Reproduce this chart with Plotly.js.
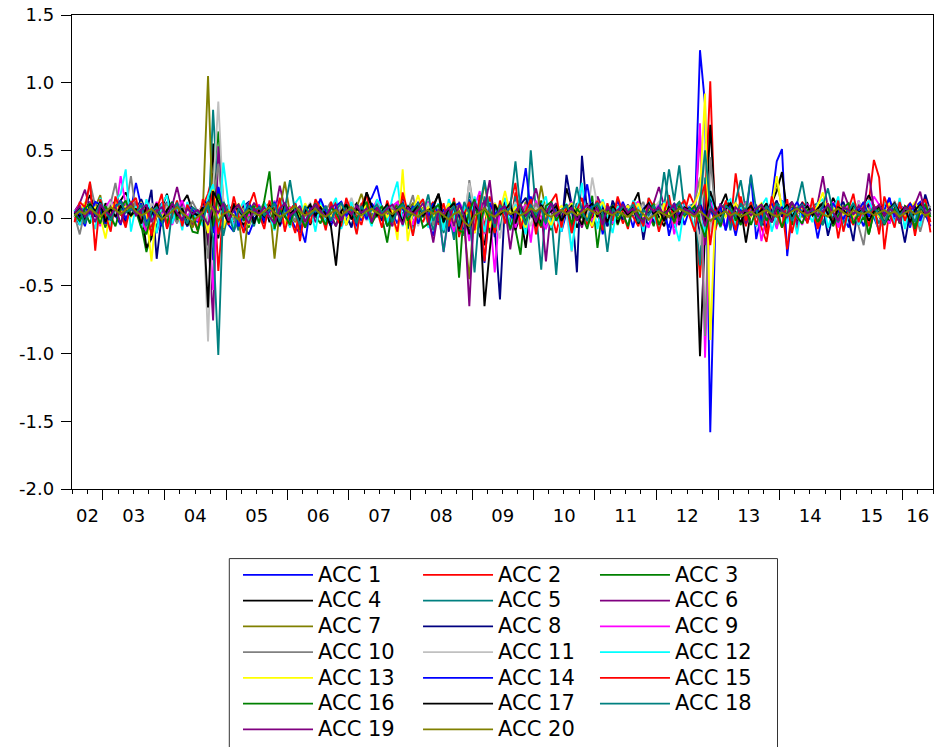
<!DOCTYPE html>
<html><head><meta charset="utf-8">
<script src="https://cdn.plot.ly/plotly-3.0.1.min.js"></script>
<style>html,body{margin:0;padding:0;background:#fff}#chart{width:940px;height:747px}
.legendtext,.legend2text,.legend3text{font-size:21px !important}</style>
</head><body><div id="chart"></div>
<script>
// Monthly observations, first one 2002M07
const startYear = 2002, startMonth = 7;
const seriesNames = ['ACC 1','ACC 2','ACC 3','ACC 4','ACC 5','ACC 6','ACC 7','ACC 8','ACC 9','ACC 10',
  'ACC 11','ACC 12','ACC 13','ACC 14','ACC 15','ACC 16','ACC 17','ACC 18','ACC 19','ACC 20'];
const yearLabels = ['02','03','04','05','06','07','08','09','10','11','12','13','14','15','16'];
const yTickValues = [-2,-1.5,-1,-0.5,0,0.5,1,1.5];

const acc1 = [-.02,.04,-.06,.09,.03,.11,-.04,.07,.02,-.05,.1,.06,
.26,.08,-.09,.03,-.11,.05,.12,-.03,.07,.01,-.06,.04,
-.03,.06,.1,-.31,.23,.07,-.05,-.1,.03,-.06,-.12,-.02,
.05,-.04,.08,.12,-.06,.03,.01,-.07,-.11,.04,.02,.09,
.13,.02,-.06,.05,.08,-.03,.1,.06,-.02,.11,.15,.24,
.07,-.06,.03,-.04,.09,-.08,.02,.12,.05,-.03,-.13,.06,
-.07,.03,-.12,.08,-.05,.14,.02,-.09,-.1,.11,-.14,.06,
.09,-.05,.13,.01,-.11,.16,-.04,.07,-.08,.12,.03,-.1,
.04,-.09,.11,.02,.07,-.06,.09,-.12,.05,.01,.13,.03,
.06,-.07,.12,.01,-.05,.04,.09,.11,-.13,.03,.1,-.05,
.07,.02,1.24,.84,-1.58,-.06,.11,-.09,.04,-.13,.05,.01,
.32,-.155,.03,-.07,.13,.42,.51,-.28,.04,-.05,.09,-.03,
.07,-.15,.04,.11,-.05,.06,.01,-.07,.09,.03,-.06,.1,
.01,-.09,.05,.15,-.03,.1,.06,-.07,.08,.12,.03,-.06];
const acc2 = [.04,.07,-.03,.11,.05,-.05,.09,.02,.13,.06,-.04,.08,
.12,.03,-.1,-.06,.04,.09,-.07,.11,.05,.01,-.05,.07,
.04,.09,.18,.33,-.39,.06,.1,-.07,.02,.11,-.05,.08,
.03,-.04,.1,.07,-.05,.09,.01,-.11,.06,-.07,.04,.08,
.01,-.06,.07,.12,-.04,.05,.09,.02,-.05,.11,.07,.03,
.08,-.03,.05,.11,.16,-.06,.09,.02,-.03,.07,.12,-.05,
.06,-.09,.11,.01,-.13,.07,-.11,.09,-.06,.16,-.08,.05,
.11,-.06,.19,.04,-.09,.12,.01,-.07,.09,.05,-.11,.06,
.07,-.05,.03,.09,.04,-.07,.12,.02,-.03,.06,.09,-.04,
.05,.01,-.06,.09,.03,-.05,.07,.11,.02,-.06,.05,.04,
.18,.09,-.44,.1,1.01,-.09,.06,.11,-.05,.33,.07,-.06,
.09,.02,-.07,-.175,.06,.11,.08,-.23,.05,-.09,.12,.07,
.03,-.06,.09,.05,.11,-.15,.07,.01,-.05,.09,.06,.12,
.43,.30,-.23,.06,.09,-.04,.07,.11,.02,.09,.15,-.105];
const acc3 = [.03,.09,.05,-.04,.11,.04,-.07,.08,.13,.05,.1,.02,
.07,-.05,-.25,-.11,.05,.09,-.04,.11,.06,-.03,.02,-.1,
-.11,.06,-.2,.3,.64,.12,.05,-.05,.09,.01,-.07,.11,
.05,.09,.02,-.05,.12,.07,-.03,.06,-.09,.03,.07,.01,
-.04,.07,.03,-.06,.09,.02,.05,-.03,.07,.11,.08,.04,
.01,-.18,.06,.09,.03,-.07,.11,.04,.01,.07,-.05,.06,
-.07,.05,.11,-.44,.1,.07,-.09,.05,.13,-.11,.09,.02,
.06,.11,-.09,-.27,.12,.05,-.07,.13,.04,-.09,.07,.01,
.09,-.06,.11,.04,-.03,.165,-.22,.07,.01,.09,-.05,.06,
.03,.07,-.03,.09,.04,-.06,.11,.06,.01,.08,.12,.04,
.06,.09,.01,-.15,.13,.04,-.04,.07,.09,.01,-.05,.07,
.11,-.06,.04,.09,-.03,.07,.11,.05,-.05,.09,.03,-.02,
.07,.01,-.05,.09,.05,-.03,.07,.02,.08,-.05,.01,-.12,
.05,.09,-.03,.04,.07,-.04,.09,.01,-.06,.07,.04,.02];
const acc4 = [.05,.01,.09,.17,.06,-.04,.11,.03,.08,.13,.19,.1,
.04,.09,-.22,-.15,.02,.07,.18,.03,-.03,.11,.17,.05,
.01,.04,-.2,.55,-.15,.09,.05,.11,.01,-.05,.07,.08,
.03,.11,-.03,.06,.09,.02,-.06,.07,.01,.09,-.05,.05,
.07,-.04,.05,.01,.09,-.05,.06,.11,.03,.19,.08,.04,
.03,.09,-.03,.06,.11,.04,-.06,.08,.07,.01,.1,.18,
.03,-.06,.07,-.11,.09,-.07,.11,-.13,-.2,.08,-.05,.06,
.11,.04,-.09,.03,-.22,.09,.06,-.04,.11,.01,.07,-.05,
.22,.09,-.07,.03,.11,.01,-.06,.09,.04,.07,-.04,.08,
.05,.11,.19,-.07,.04,.09,.01,-.06,.07,.03,-.03,.09,
.04,.11,-1.02,-.1,.69,.05,.09,.18,.03,-.07,.08,-.18,
.05,.09,-.05,.06,.11,.2,.34,.04,.09,-.04,.07,.11,
.03,.09,.11,.04,.15,.07,-.03,.09,.05,.03,.1,.17,
.09,.04,.11,-.04,.07,.05,.01,.09,.03,.07,.11,.05];
const acc5 = [.03,.07,-.03,.09,.04,.11,.01,-.06,.09,.06,.11,.03,
.08,.01,-.11,.05,-.07,.09,.03,.01,.11,.06,-.04,.05,
.01,.11,-.1,.80,.1,-.13,.05,.01,-.09,.07,.03,-.06,
.09,.04,.01,-.07,.11,.05,.08,.02,-.05,.07,.03,.09,
.05,-.03,.07,.04,.11,.01,-.06,.09,.06,.11,.03,.01,
.06,-.05,.09,.11,.01,.05,-.07,.09,.13,.04,-.09,.05,
-.11,.05,-.16,.09,-.13,.19,.06,-.11,.16,.03,.11,-.09,
.13,-.07,.16,.09,-.11,.50,.05,-.38,.11,.03,-.42,.06,
.09,-.11,.11,.05,-.05,.09,.01,.07,-.06,.11,.03,.06,
.03,.09,-.04,.07,.11,.05,-.05,.09,.36,.13,.39,.05,
.09,.11,-.35,.3,.11,-.06,.07,.11,-.09,.13,.28,.05,
.11,.06,-.06,.09,.03,-.07,.13,.08,.06,.11,.27,.05,
.09,.11,-.05,.06,.04,.11,-.04,.09,.03,.07,.01,.09,
.05,-.04,.07,.09,.03,.11,.01,-.05,.07,.09,.05,.03];
const acc6 = [.05,.11,.21,.07,.01,.09,-.05,.11,.04,.13,.08,.03,
.11,.05,-.09,.01,.07,.11,.03,.09,.23,.06,.01,-.05,
.02,.09,-.11,-.755,.53,.11,.03,-.07,.09,.01,.05,.11,
.07,-.04,.09,.03,.24,.07,-.05,.09,.01,.05,.11,-.03,
.03,.09,.01,-.06,.07,.11,.02,-.05,.09,.04,.01,.07,
.09,.03,-.06,.07,.11,.01,-.07,.09,.03,.11,.05,.01,
-.05,.09,.01,-.11,.07,.11,-.09,.05,.13,-.07,.11,.03,
.07,-.09,.11,.03,-.06,.09,.22,.05,-.32,.07,.11,-.05,
.05,.11,.03,-.07,.09,.01,.16,.07,-.05,.09,.02,.07,
.03,.09,.01,-.06,.07,.11,.23,.09,.03,-.07,.09,.05,
.07,.03,.63,-.2,.09,.05,-.05,.11,.07,.01,.09,-.04,
.05,.09,-.03,.07,.03,.11,.05,.09,.12,-.05,.07,.09,
.03,.11,.31,.07,.01,-.06,.195,.09,.03,.07,.11,.05,
.07,.01,-.05,.09,.05,.11,.03,-.04,.07,.09,.11,.05];
const acc7 = [.02,.05,.11,.04,.08,.17,-.05,.06,.1,.03,.09,.12,
.06,.1,-.06,.08,.01,.06,.11,.03,.08,.05,.01,-.07,
.02,.05,1.05,-.03,.1,-.08,.04,.06,.01,-.30,.05,.09,
.04,.08,.11,-.30,.06,.27,.03,-.03,.08,.05,.1,.02,
.06,.01,.08,.04,-.04,.06,.11,.08,.18,.05,.01,.09,
.05,.1,.03,.08,.01,.06,.11,.03,.08,-.02,.06,.1,
-.06,.09,.01,.11,-.07,-.45,.1,.05,.26,.03,-.11,.08,
.11,.05,.09,-.05,.12,.06,.01,.24,.05,-.07,.09,.03,
.06,.11,.03,-.04,.09,.05,.01,.1,.06,-.05,.08,.01,
.05,.09,.01,.06,.03,.11,.05,-.03,.08,.06,.11,.03,
.09,.05,.11,.2,-.06,.06,.01,.09,.03,.11,.05,.01,
.06,.09,.03,.01,.11,.27,.08,.03,.06,.1,.01,.05,
.09,.03,.06,.11,.01,.05,.09,.03,.06,.01,.11,.05,
.03,.08,.01,.06,.11,.05,.03,.09,-.10,.06,.01,.05];
const acc8 = [.02,-.05,.07,.12,.01,.08,-.04,.05,.13,.03,-.02,.09,
.06,.14,.04,.21,-.30,.02,.1,-.03,.08,.05,-.06,.04,
.01,.1,.13,-.08,.2,.05,-.02,.07,-.06,.09,.12,-.01,
.04,-.03,.1,.02,.08,-.07,.05,.11,-.02,.04,.09,.01,
.08,.02,-.04,.06,.12,.03,-.07,.1,.05,-.01,.09,.04,
-.02,.11,.03,.07,.14,.01,-.05,.08,.04,.12,.06,-.03,
.05,-.1,.12,.02,-.08,.09,.14,-.12,.07,.01,-.07,-.60,
.12,.04,-.06,.1,.15,.03,-.05,.11,.01,.08,.05,-.08,
.32,.1,-.40,.46,.04,-.02,.11,.08,-.06,.13,.05,-.01,
.1,.02,.12,-.16,.07,-.03,.09,.04,.13,.01,-.05,.07,
.03,.1,-.12,.05,.14,.06,-.02,.09,.04,-.07,.05,.12,
.02,.08,-.03,-.07,.06,.13,.01,.1,-.02,.07,.11,.03,
.05,-.02,.09,-.13,.02,.07,.12,-.01,-.17,.12,.04,.1,
.01,.09,-.03,.06,.12,.02,-.18,.04,.1,-.02,.175,.05];
const acc9 = [.04,.1,-.02,.12,.05,-.06,.08,.14,.03,.31,.1,.01,
.07,-.01,-.1,.04,.12,.02,.09,-.05,.06,.13,.01,.08,
-.02,.05,.12,-.53,.2,.08,.01,-.05,.07,.11,.02,.04,
.1,-.01,.05,.13,.02,-.06,.08,.04,-.02,-.07,.06,.11,
.02,.09,-.03,.05,.12,.01,.04,-.07,.1,-.01,.06,.13,
.04,-.02,.09,.12,.01,.07,-.05,.1,.03,.12,.02,.05,
-.25,.02,-.1,.12,.05,-.17,.08,.2,-.12,.04,-.40,.1,
.02,.12,-.07,.05,.1,-.18,.13,.01,-.08,.09,-.02,.04,
.07,.12,.01,-.05,.1,-.02,.05,.13,.02,-.04,.08,.06,
.01,.1,.12,-.02,-.07,.05,.1,.02,.13,-.12,.04,.1,
.05,.01,.70,-1.03,.12,.05,-.02,-.07,.1,.02,.05,.12,
.04,.1,-.17,.01,.12,-.08,.09,-.02,.06,.02,-.05,.1,
.07,-.02,.1,.02,.12,-.07,.05,.1,-.01,.13,.02,.05,
.16,.1,.02,-.04,.05,.12,.01,.1,-.02,.07,.12,.02];
const acc10 = [.02,-.12,.06,.26,.09,-.01,.05,.11,.26,.03,.07,.31,
.04,.12,-.07,.03,.09,-.02,.11,.05,-.04,.08,.06,.12,
.05,.07,-.3,.12,.4,.04,.09,-.01,-.05,.07,.11,.02,
.07,.1,.01,-.06,.12,.03,.05,-.02,.09,-.04,.04,.11,
.03,.06,.12,-.01,.08,-.05,.07,.04,.11,.01,.09,.03,
.07,-.01,.09,.03,.12,.05,.17,-.02,.06,.1,-.05,.11,
.04,.09,-.02,.12,-.07,.28,.03,.09,-.11,.07,.01,.09,
.04,.12,.01,-.06,.09,.03,.11,.05,-.01,-.05,.08,.04,
.07,.11,.03,.09,-.01,-.04,.05,.12,.03,.09,.01,.06,
.09,.03,.07,.12,-.02,.05,-.05,.09,.06,.11,.03,.08,
.04,.12,.3,-.87,.45,.05,-.01,.09,.03,-.06,.07,.11,
.09,.03,.07,-.01,.12,-.05,.08,.04,.11,.03,.07,.01,
.09,.04,.12,.03,.07,-.01,.09,.03,.11,-.06,-.2,.07,
.03,.09,-.01,.07,.12,.03,.08,-.02,.06,-.1,.04,.09];
const acc11 = [.01,.07,.11,.03,.09,-.04,.05,.12,.03,.08,.13,.05,
.03,.09,-.01,.11,.06,-.05,.08,.04,.12,.01,.06,.03,
.05,.09,-.91,.2,.86,.11,.01,.07,.03,-.03,.09,.05,
.07,.01,.08,.12,.03,-.04,.06,.09,.01,.05,.11,.04,
.09,.03,.06,.01,.12,.05,.15,.03,.08,-.02,.06,.11,
.04,.09,.01,.07,.12,.03,.08,-.06,.05,.11,.01,.09,
.05,.11,-.06,.08,.01,.26,.03,-.11,.09,.06,.01,-.15,
.09,.03,.12,.01,.06,-.06,.08,.03,.11,.01,.05,.09,
.03,-.25,.06,.11,.01,.30,.09,.03,.07,-.02,.08,.05,
.06,.11,.03,.09,.01,.07,.12,.03,.08,-.04,.06,.04,
.09,.03,-.2,.55,-.1,.07,.09,.01,.12,.03,.06,.09,
.03,.09,.06,.01,.12,.04,.08,.06,.01,.11,.03,.07,
.09,.01,.06,.11,.03,.08,-.01,.07,.04,.12,.08,.05,
.06,.03,.09,.01,.11,.06,.03,.09,-.01,.06,.12,.04];
const acc12 = [.06,-.05,.11,.02,-.08,.15,.04,-.06,.13,.18,.36,-.10,
.09,-.07,.14,.03,-.11,.1,.17,-.04,.08,-.09,.12,-.02,
.05,-.06,.16,.25,-.12,.41,.1,-.08,.04,.13,-.05,.09,
-.04,.12,.02,-.09,.14,.06,-.07,.11,.16,-.03,.08,-.1,
.13,-.05,.07,.15,-.08,.03,.12,-.11,.09,.04,-.06,.14,
.08,-.04,.15,.27,-.06,.1,-.12,.05,.13,-.07,.02,.11,
-.09,.14,.03,-.13,.1,-.06,.16,.02,-.1,.12,-.04,.07,
.15,-.08,.1,.04,-.12,.13,-.02,.09,.16,-.07,.05,-.1,
.11,-.24,.06,.26,-.05,.12,-.08,.14,.02,-.11,.09,.03,
-.06,.13,.08,-.1,.15,.01,-.08,.12,.05,-.03,-.17,.1,
.07,-.09,.16,-.14,.2,.04,-.07,.11,.14,-.05,.08,.02,
.12,-.06,.09,.15,-.1,.03,.13,-.04,.07,-.12,.1,.05,
-.03,.11,.14,-.07,.05,.16,-.09,.02,.12,-.05,.08,.13,
.04,-.1,.12,.07,-.04,.15,-.08,.1,.03,-.06,.13,.01];
const acc13 = [.03,.06,.11,.04,.08,.01,-.15,.06,.12,.03,.09,.01,
.06,.11,.03,-.32,.09,.01,.06,.11,.03,-.04,.08,.05,
.03,.08,-.11,.21,.05,-.07,.06,.01,.11,.04,-.05,.08,
.06,.01,.09,.03,.12,-.06,.06,.08,.01,.11,.03,.06,
.09,.03,.01,.07,.11,-.05,.08,.05,.01,.12,.06,.03,
.08,.01,.06,-.16,.36,-.17,.06,.17,.03,.08,.01,.06,
.03,.11,-.06,.09,.01,.06,-.11,.03,.08,-.07,.11,.05,
.2,.03,.08,.01,-.07,.11,.03,.09,.01,-.05,.06,.09,
.05,.11,.03,.08,.01,-.06,.07,.12,.03,.09,.01,.06,
.09,.03,.11,.01,.06,.09,-.05,.11,.03,.06,.08,.01,
.06,.11,.2,.92,-.9,.03,.09,.01,.06,.11,.03,.08,
.01,.07,.11,.03,.09,.31,.06,.01,.11,.04,.08,.06,
.03,.09,.19,.01,.06,.11,.03,.08,.01,.06,.12,.04,
.08,.01,.06,.11,.03,.09,.01,.07,.12,.03,.08,.01];
const acc14 = [.05,-.02,.08,.03,.12,.1,-.04,.02,.09,.13,-.01,.07,
.04,.11,-.03,.02,.08,-.06,.05,.12,.03,-.02,.09,.06,
.02,.07,.12,-.11,.23,.05,-.03,.08,-.06,.02,.11,.04,
.09,-.02,.05,.12,.03,.07,-.01,.06,-.05,-.18,.08,.03,
.145,.05,-.03,.09,.12,.02,.06,-.06,.08,-.01,.11,.05,
.02,.09,-.03,.07,.12,.01,.09,-.04,.05,.01,.11,.03,
.06,-.01,.09,.11,.02,-.07,.09,.01,-.33,.11,.03,.07,
.08,.02,-.02,.12,.37,.05,-.01,.09,.03,.11,.05,-.02,
.04,.09,-.01,.06,.25,.03,.11,-.03,.07,.09,.02,.12,
.03,.08,-.02,.07,.11,.02,.09,.01,-.07,.11,.03,.05,
.08,.04,.11,.02,.06,-.01,.09,-.09,.11,.03,.06,.01,
.05,.09,-.02,.06,.11,.03,.08,.01,.06,.12,.03,-.03,
.07,.01,.09,.03,.11,.05,-.01,.08,.03,.06,.12,.01,
.08,.03,.06,.15,.01,.09,.03,.11,.05,-.02,.08,.03];
const acc15 = [-.03,.12,.08,.27,-.24,.14,.02,-.1,.16,.05,-.07,.11,
.15,-.04,.09,-.13,.06,.18,-.08,.03,.13,-.06,.1,.01,
-.09,.14,.04,.2,-.12,.07,-.05,.16,.02,-.11,.09,.19,
.03,-.08,.13,-.02,.15,-.1,.06,.11,-.17,.08,-.04,.14,
.07,-.09,.12,.01,-.06,.15,.04,-.12,.1,.17,-.03,.06,
-.07,.13,.02,-.1,.19,.05,-.13,.09,.14,-.05,.08,-.02,
.11,-.06,.15,-.14,.03,.12,-.09,.17,-.32,.08,-.11,.13,
-.04,.1,.26,-.08,.05,.14,-.12,.09,-.03,.12,.18,-.07,
.1,-.11,.06,.15,-.05,.02,.13,-.09,.11,-.02,.16,.04,
-.08,.12,.03,-.06,.15,.08,-.1,.05,.17,-.04,.09,.13,
.02,-.1,.14,.25,-.2,.09,-.06,.13,.03,-.09,.16,-.02,
.12,-.05,.08,-.12,.16,.03,-.07,.14,-.11,.06,.1,-.04,
.15,-.08,.02,.11,-.05,.13,-.1,.07,.18,-.03,.09,-.06,
.1,-.12,.16,.04,-.07,.12,-.02,.09,-.13,.07,.14,-.03];
const acc16 = [.03,-.02,.07,.11,.05,-.04,.09,.01,-.06,.08,.13,.02,
.05,-.07,-.12,.04,.09,-.03,.06,.12,-.01,.07,-.05,.03,
-.09,.02,.11,-.06,.18,.04,-.03,.07,.1,-.02,.05,.09,
-.04,.13,.345,-.08,.06,.02,-.05,.09,.03,-.07,.04,.11,
.02,-.05,.08,.04,-.03,.1,.06,-.01,.07,.12,-.04,.03,
.09,-.06,.01,.07,.11,-.02,.05,.08,-.07,-.04,.06,.1,
-.03,.07,.12,-.09,-.11,.05,.14,-.06,.08,-.02,.1,.03,
.06,-.08,.04,.11,-.03,.07,.01,-.06,.09,.12,-.02,.05,
.1,-.04,.07,.02,-.08,.06,.11,-.03,.05,.09,-.01,.04,
-.06,.08,.03,-.02,.07,.1,-.05,.04,.06,-.03,.09,.02,
.05,.09,-.03,-.14,.07,.02,-.06,.08,.11,-.02,.04,.07,
-.05,.06,.1,-.02,.04,.08,-.07,.03,.12,.01,-.04,.06,
.07,-.03,.05,.09,-.06,.02,.08,.11,-.04,.03,.06,-.12,
.04,.08,-.05,.02,.07,-.03,.09,.05,-.08,.06,.1,.01];
const acc17 = [.03,.08,-.02,.1,.05,.12,-.03,.07,.01,.09,.06,.02,
.07,-.04,.09,.03,.11,-.02,.06,.1,.02,.07,-.05,.04,
.02,.08,-.66,.2,.12,.04,-.03,.09,.06,.01,.08,-.04,
.06,.01,.09,.04,-.05,.11,.03,.07,-.02,.05,.1,.02,
.08,.03,-.06,-.35,.05,.1,-.01,.07,.04,.19,.09,.02,
.05,.1,.01,.07,-.03,.09,.04,.11,.02,.06,.08,.18,
-.03,.07,.11,-.08,.04,-.12,.09,.05,-.65,-.24,.1,.03,
.06,.11,-.04,.08,.02,.07,-.06,.1,.03,.05,.09,-.02,
.04,.09,.02,-.05,.07,.11,.01,.06,-.03,.09,.04,.07,
.02,.08,-.04,.06,.11,.03,.07,-.02,.09,.05,.01,.08,
.06,.03,.1,-.05,.2,.08,.02,.07,.11,.04,-.03,.06,
.09,.02,.06,.11,-.03,.08,.05,.1,.01,.07,.04,.09,
.02,.07,.11,.03,-.04,.08,.06,.01,.1,.04,.07,-.02,
.05,.09,.02,.07,.11,.04,.08,-.03,.06,.1,.02,.07];
const acc18 = [.02,.06,-.04,.09,.03,.11,.05,-.02,.08,.12,.04,.07,
.03,.1,-.06,.05,.08,.01,-.27,.06,.11,.03,-.04,.08,
.05,-.01,.1,-.15,-1.01,.12,.03,-.10,.07,.02,.09,.05,
.08,.02,.06,.11,-.03,.07,.28,.04,-.05,.09,.02,.06,
.03,.09,-.02,.06,.11,.04,.07,-.04,.09,.02,.06,.1,
.04,.08,-.03,.06,.1,.02,.07,.11,.03,.175,-.02,.06,
-.25,.04,.09,-.06,.12,.03,-.40,.08,.28,.05,-.07,.1,
.03,.08,.42,.06,-.05,.1,.03,.07,-.04,.11,.02,.06,
.09,.03,.23,.05,-.02,.08,.11,.04,-.25,.07,.02,.09,
.05,.1,-.03,.06,.02,.09,.04,.34,.1,.06,.12,.03,
.07,.02,.1,.5,.08,.04,-.03,.09,.06,.02,.11,.05,
.32,.06,-.05,.09,.03,.11,.05,.08,-.02,.07,.1,.04,
.06,.02,.09,.22,.04,-.03,.08,.05,.11,.02,.07,.04,
.08,.03,-.04,.06,.1,.02,.07,.05,-.03,.09,.04,.06];
const acc19 = [.04,.09,.01,.06,-.03,.1,.05,.02,.08,-.04,.07,.11,
.02,.06,.1,-.03,.05,.08,.01,.11,.04,-.02,.07,.03,
.06,.02,-.05,.09,.04,.11,-.02,.06,.1,.03,-.04,.07,
.03,.08,.01,-.04,.07,.11,.02,.05,.09,-.03,.06,.1,
.05,.01,.08,.1,-.02,.06,.03,.09,.04,.07,-.03,.08,
.02,.07,.1,.04,-.05,.08,.03,.06,.11,.01,-.18,.06,
.03,.08,-.06,.1,.02,-.65,.12,.05,.07,.28,-.04,.06,
.09,-.23,.05,.1,.02,.07,-.03,.08,.04,.11,.01,.06,
.03,.08,-.02,.06,.1,.04,.07,-.05,.09,.02,.06,.1,
.04,.07,.01,-.03,.09,.05,.08,.02,.06,.1,-.02,.07,
.05,.02,.09,-.06,.07,.03,.1,.06,-.02,.08,.04,.06,
.02,.07,.1,.04,-.03,.08,.06,.01,.12,.05,.09,.03,
.07,.02,.05,.1,.04,-.02,.08,.06,.03,.09,.05,.33,
.06,.1,.02,.07,.04,-.03,.08,.05,.1,.195,.03,.06];
const acc20 = [.02,.05,.03,.07,.04,.01,.05,.08,.06,.03,.06,.09,
.05,.02,.04,.07,.03,-.01,.02,.05,.08,.04,.01,-.03,
.01,.04,.12,.06,-.02,.03,.05,.02,-.01,.03,.06,.04,
.02,.05,.08,.04,.01,.03,.06,.09,.05,.02,.04,.07,
.03,.01,.04,.06,.02,.05,.08,.04,.02,.05,.07,.04,
.02,.05,.03,.06,.08,.05,.03,.01,.04,.06,.03,.05,
.02,-.01,.03,.05,-.03,-.06,.02,.04,.07,.03,.01,.04,
.06,.03,.05,.02,.04,.07,.05,.08,.03,.01,.04,.06,
.03,.05,.02,.04,.07,.05,.03,.06,.04,.02,.05,.03,
.01,.04,.06,.03,-.01,.02,.05,.03,.01,.04,.07,.05,
.03,.01,.05,.02,-.02,.01,.03,.05,.02,.04,.01,.03,
.05,.02,.04,.06,.03,.01,.04,.02,.05,.07,.04,.02,
.04,.06,.03,.01,.05,.07,.04,.02,.06,.04,.03,.05,
.02,.04,.06,.03,.05,.01,.04,.06,.03,.05,.02,.04];

const seriesValues = [acc1,acc2,acc3,acc4,acc5,acc6,acc7,acc8,acc9,acc10,
  acc11,acc12,acc13,acc14,acc15,acc16,acc17,acc18,acc19,acc20];
const lineColors = ['#0000FF','#FF0000','#008000','#000000','#008080','#800080','#808000','#000080',
  '#FF00FF','#808080','#C0C0C0','#00FFFF','#FFFF00','#0000FF','#FF0000','#008000','#000000',
  '#008080','#800080','#808000'];

const nObs = acc1.length;
seriesValues.forEach((s, k) => {
  if (s.length !== nObs) throw new Error(seriesNames[k] + ' has ' + s.length + ' values, expected ' + nObs);
});

function pad2(n) { return String(n).padStart(2, '0'); }
const months = [];
for (let i = 0; i < nObs; i++) {
  const m0 = startMonth - 1 + i;
  months.push((startYear + Math.floor(m0 / 12)) + '-' + pad2(m0 % 12 + 1) + '-16');
}
const endM0 = startMonth - 1 + nObs;
const rangeStart = startYear + '-' + pad2(startMonth) + '-01';
const rangeEnd = (startYear + Math.floor(endM0 / 12)) + '-' + pad2(endM0 % 12 + 1) + '-01';
const rs = Date.parse(rangeStart + 'T00:00:00Z'), re = Date.parse(rangeEnd + 'T00:00:00Z');
const labelDates = yearLabels.map((lab, k) => {
  const y = startYear + k;
  const a = Math.max(rs, Date.UTC(y, 0, 1)), b = Math.min(re, Date.UTC(y + 1, 0, 1));
  return new Date((a + b) / 2).toISOString().slice(0, 19).replace('T', ' ');
});

const FONT = 'DejaVu Sans';
const legendIds = ['legend', 'legend2', 'legend3'];
const traces = seriesValues.map((vals, k) => ({
  type: 'scatter', mode: 'lines', name: seriesNames[k], x: months, y: vals,
  xaxis: k === seriesValues.length - 1 ? 'x2' : 'x',
  line: { color: lineColors[k], width: 1.9 },
  legend: legendIds[k % 3], hoverinfo: 'skip'
}));

const legendBase = {
  orientation: 'v', xanchor: 'left', yanchor: 'top', y: -0.1435,
  bgcolor: 'rgba(0,0,0,0)', borderwidth: 0, itemwidth: 70, tracegroupgap: 0,
  font: { family: FONT, size: 17.5, color: '#000' }, itemclick: false, itemdoubleclick: false
};

const layout = {
  width: 940, height: 747,
  margin: { l: 72, r: 7, t: 15, b: 258, autoexpand: false },
  paper_bgcolor: '#fff', plot_bgcolor: '#fff',
  showlegend: true,
  xaxis: {
    type: 'date', range: [rangeStart, rangeEnd], showgrid: false, zeroline: false,
    showline: true, mirror: true, linecolor: '#000', linewidth: 1.2,
    tickmode: 'linear', tick0: startYear + '-01-01', dtick: 'M12',
    ticks: 'outside', ticklen: 10, tickwidth: 1, tickcolor: '#000', showticklabels: false,
    minor: { ticks: 'outside', ticklen: 4, tickwidth: 1, tickcolor: '#000', dtick: 'M3', tick0: startYear + '-01-01', showgrid: false }
  },
  xaxis2: {
    type: 'date', overlaying: 'x', anchor: 'y', side: 'bottom', range: [rangeStart, rangeEnd],
    showgrid: false, zeroline: false, showline: false, ticks: '',
    tickmode: 'array', tickvals: labelDates, ticktext: yearLabels,
    tickfont: { family: FONT, size: 18, color: '#000' }, ticklabelstandoff: 14
  },
  yaxis: {
    range: [-2, 1.5], showgrid: false, zeroline: false,
    showline: true, mirror: true, linecolor: '#000', linewidth: 1.2,
    tickmode: 'array', tickvals: yTickValues, ticktext: yTickValues.map(v => v.toFixed(1)),
    ticks: 'outside', ticklen: 10, tickwidth: 1, tickcolor: '#000',
    tickfont: { family: FONT, size: 18, color: '#000' }, ticklabelstandoff: 3
  },
  legend: Object.assign({}, legendBase, { x: 0.1928 }),
  legend2: Object.assign({}, legendBase, { x: 0.4019 }),
  legend3: Object.assign({}, legendBase, { x: 0.6074 }),
  shapes: [{
    type: 'rect', xref: 'paper', yref: 'paper', x0: 0.1827, x1: 0.8194, y0: -0.1468, y1: -0.6,
    line: { color: '#333', width: 1 }, fillcolor: 'rgba(0,0,0,0)', layer: 'below'
  }]
};

Plotly.newPlot('chart', traces, layout, { displayModeBar: false, staticPlot: true });
</script>
</body></html>
